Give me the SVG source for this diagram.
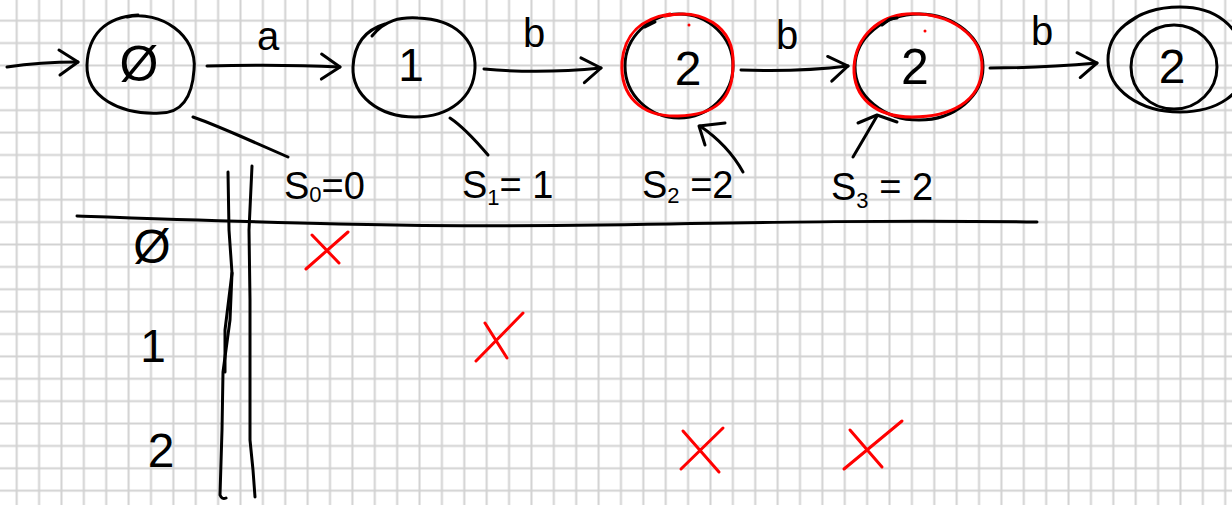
<svg xmlns="http://www.w3.org/2000/svg" width="1232" height="505" viewBox="0 0 1232 505">
<style>
.ink{fill:none;stroke:#000;stroke-width:3;stroke-linecap:round;stroke-linejoin:round}
.red{fill:none;stroke:#f00;stroke-width:3;stroke-linecap:round;stroke-linejoin:round}
.t{font-family:"Liberation Sans",Arial,sans-serif;fill:#000;text-anchor:middle}
.s{font-family:"Liberation Sans",Arial,sans-serif;fill:#000;font-size:38px}
</style>
<defs>
<pattern id="grid" patternUnits="userSpaceOnUse" x="5.51" y="9.51" width="22.38" height="22.38">
<path d="M11.19,0 V22.38 M0,11.19 H22.38" stroke="#d2d2d2" stroke-width="2" fill="none"/>
</pattern>
<marker id="ah" markerUnits="userSpaceOnUse" markerWidth="40" markerHeight="40" refX="0" refY="0" viewBox="-25 -20 30 40" orient="auto">
<path d="M-19,-12 L0,0 L-18,13" fill="none" stroke="#000" stroke-width="3" stroke-linecap="round" stroke-linejoin="round"/>
</marker>
</defs>
<rect width="1232" height="505" fill="#fff"/>
<rect width="1232" height="505" fill="url(#grid)"/>

<g id="connectors">
<path class="ink" d="M7,67 Q40,62 78,62" marker-end="url(#ah)"/>
<path class="ink" d="M207,66 Q280,64 340,67" marker-end="url(#ah)"/>
<text class="t" x="268" y="50" font-size="40">a</text>
<path class="ink" d="M484,69 Q540,74 601,68" marker-end="url(#ah)"/>
<text class="t" x="534" y="47" font-size="40">b</text>
<path class="ink" d="M741,70 Q800,72 848,66" marker-end="url(#ah)"/>
<text class="t" x="787" y="49" font-size="40">b</text>
<path class="ink" d="M990,68 Q1040,68 1097,63" marker-end="url(#ah)"/>
<text class="t" x="1042" y="45" font-size="40">b</text>
<path class="ink" d="M193,117 Q205,121 240,136 L288,157"/>
<path class="ink" d="M450,118 Q465,128 488,155"/>
<path class="ink" d="M743,172 Q728,145 700,126"/>
<path class="ink" d="M705,145 L699,126 L725,123"/>
<path class="ink" d="M853,157 Q866,135 877,116"/>
<path class="ink" d="M858,123 L877,115 L897,122"/>
</g>

<g id="node-empty">
<path class="ink" d="M127,17 C160,10 198,35 194,70 C192,100 180,113 160,113 C120,115 86,97 87,65 C88,35 105,17 138,15"/>
<text class="t" x="139" y="81" font-size="50">Ø</text>
</g>
<g id="node-1">
<path class="ink" d="M372,36 C385,20 400,17 418,18 C455,19 476,40 475,68 C474,97 450,117 415,117 C378,117 352,95 353,67 C354,45 365,30 385,24"/>
<text class="t" x="411" y="81" font-size="46">1</text>
</g>
<g id="node-2">
<ellipse class="ink" cx="679" cy="66" rx="54" ry="52"/>
<path class="red" d="M665,16 C700,8 735,25 733,65 C733,100 715,115 678,116 C640,117 620,95 622,62 C625,30 645,18 670,14"/>
<path class="ink" d="M645,27 L655,22"/>
<circle cx="689" cy="25" r="1.5" fill="#f00"/>
<text class="t" x="688" y="85" font-size="48">2</text>
</g>
<g id="node-3">
<ellipse class="ink" cx="919" cy="67" rx="64" ry="53"/>
<path class="red" d="M907,14 C950,12 983,35 982,68 C981,102 950,117 912,117 C875,117 853,97 854,67 C856,35 880,16 907,14"/>
<path class="ink" d="M882,25 L890,19 L897,18"/>
<circle cx="925" cy="31" r="1.5" fill="#f00"/>
<text class="t" x="915" y="84" font-size="50">2</text>
</g>
<g id="node-final">
<path class="ink" d="M1125,25 C1140,12 1160,7 1180,7 C1215,7 1240,25 1245,60 C1248,95 1215,112 1180,112 C1140,112 1108,90 1108,60 C1108,45 1115,33 1125,25 L1140,15"/>
<ellipse class="ink" cx="1174" cy="67" rx="43" ry="42"/>
<text class="t" x="1172" y="83" font-size="48">2</text>
</g>

<g id="labels">
<text class="s" x="284" y="199">S<tspan font-size="22" dy="3">0</tspan><tspan dy="-3">=0</tspan></text>
<text class="s" x="462" y="198">S<tspan font-size="22" dy="7">1</tspan><tspan dy="-7">= 1</tspan></text>
<text class="s" x="642" y="198">S<tspan font-size="22" dy="5">2</tspan><tspan dy="-5"> =2</tspan></text>
<text class="s" x="831" y="200">S<tspan font-size="22" dy="8">3</tspan><tspan dy="-8"> = 2</tspan></text>
</g>

<g id="table">
<path class="ink" d="M77,216 C250,222 420,228 600,225 S900,220 1037,222"/>
<path class="ink" d="M228,172 L229,230 L232,273 L230,320 L223,372 L222,430 L220,495 Q222,500 226,498"/>
<path class="ink" d="M232,273 L225,330 L225,372"/>
<path class="ink" d="M252,166 L249,230 L250,300 L250,400 L250,440 L253,470 L255,497"/>
<text class="t" x="152" y="263" font-size="48">Ø</text>
<text class="t" x="153" y="362" font-size="46">1</text>
<text class="t" x="161" y="467" font-size="48">2</text>
</g>

<g id="marks">
<path class="red" d="M306,269 L348,232 M312,235 L339,263"/>
<path class="red" d="M476,361 L523,313 M485,323 L507,358"/>
<path class="red" d="M681,469 L723,428 M683,431 L719,472"/>
<path class="red" d="M844,469 L902,421 M850,430 L882,467"/>
</g>
</svg>
